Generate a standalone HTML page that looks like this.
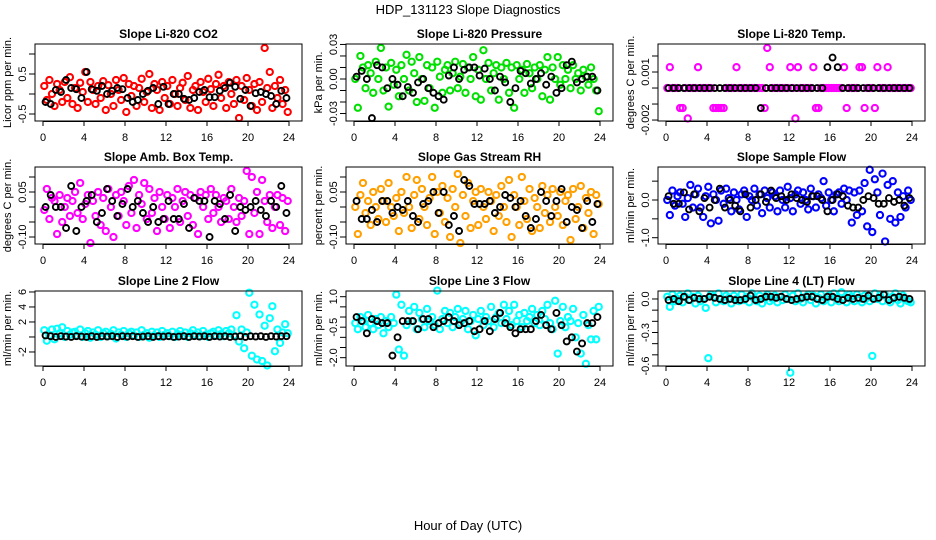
<!DOCTYPE html>
<html><head><meta charset="utf-8">
<style>
html,body{margin:0;padding:0;background:#fff;}
svg{display:block;font-family:"Liberation Sans",Arial,sans-serif;}
</style></head>
<body>
<svg id="chart" width="936" height="540" viewBox="0 0 936 540" xmlns="http://www.w3.org/2000/svg">
<text x="468" y="14" text-anchor="middle" font-size="13">HDP_131123  Slope Diagnostics</text>
<text x="468" y="530" text-anchor="middle" font-size="13">Hour of Day (UTC)</text>
</svg>
<script>
const xTicks=[0,4,8,12,16,20,24];
const titles=["Slope Li-820 CO2","Slope Li-820 Pressure","Slope Li-820 Temp.","Slope Amb. Box Temp.","Slope Gas Stream RH","Slope Sample Flow","Slope Line 2 Flow","Slope Line 3 Flow","Slope Line 4 (LT) Flow"];
const yTitles=["Licor ppm per min.","kPa per min.","degrees C per min.","degrees C per min.","percent per min.","ml/min per min.","ml/min per min.","ml/min per min.","ml/min per min."];
const colors=["#ff0000","#00e000","#ff00ff","#ff00ff","#ffa000","#0000ff","#00ffff","#00ffff","#00ffff"];
const yLims=[[-0.675,1.25],[-0.0365,0.0304],[-0.00206,0.00275],[-0.1233,0.1333],[-0.1233,0.1333],[-1.167,0.875],[-3.87,6.13],[-2.41,1.28],[-0.6,0.0714]];
const yTickVals=[[-0.5,0,0.5,1.0],[-0.03,-0.02,-0.01,0,0.01,0.02,0.03],[-0.002,-0.001,0,0.001,0.002],[-0.1,-0.05,0,0.05,0.1],[-0.1,-0.05,0,0.05,0.1],[-1,-0.5,0,0.5],[-2,0,2,4,6],[-2,-1.5,-1,-0.5,0,0.5,1],[-0.6,-0.5,-0.4,-0.3,-0.2,-0.1,0]];
const yLabelVals=[[-0.5,0.5],[-0.03,0,0.03],[-0.002,0.001],[-0.1,0.05],[-0.1,0.05],[-1,0],[-2,2,4,6],[-2,-0.5,1],[-0.6,-0.3,0]];
const yLabelText=[["-0.5","0.5"],["-0.03","0.00","0.03"],["-0.002","0.001"],["-0.10","0.05"],["-0.10","0.05"],["-1.0","0.0"],["-2","2","4","6"],["-2.0","-0.5","1.0"],["-0.6","-0.3","0.0"]];

const co2Color=[0.2,-0.15,0.35,0.0,-0.3,0.25,0.1,-0.2,0.3,-0.1,0.42,-0.25,0.15,-0.35,0.28,0.05,0.55,-0.2,0.3,0.1,-0.25,0.2,-0.1,0.32,-0.4,0.22,0.0,-0.3,0.35,0.1,-0.15,0.4,-0.45,0.25,-0.05,0.2,-0.3,0.15,0.38,-0.2,0.05,0.5,-0.35,0.25,0.1,-0.4,0.3,-0.1,0.2,-0.25,0.35,0.0,-0.3,0.15,0.28,-0.15,0.45,-0.35,0.1,0.2,-0.4,0.3,0.05,-0.2,0.38,0.12,-0.3,0.25,0.48,-0.1,0.2,-0.35,0.3,0.0,-0.25,0.35,-0.6,0.2,-0.15,0.4,0.1,-0.3,0.25,-0.4,0.3,-0.2,1.15,0.15,0.55,-0.35,0.2,-0.1,0.35,-0.25,0.1,-0.45];
const co2Black=[-0.2,-0.25,0.1,0.05,0.35,0.15,0.12,-0.1,0.55,0.12,0.08,0.2,0.0,0.08,0.15,0.12,-0.1,-0.2,-0.15,0.0,0.08,0.15,-0.25,0.18,-0.25,0.0,0.0,-0.12,-0.15,-0.1,0.05,0.1,-0.08,-0.08,0.08,0.15,0.28,0.18,-0.12,0.1,-0.3,0.02,0.05,0.0,-0.05,-0.25,0.08,-0.1];
const presColor=[0.0,-0.025,0.02,0.01,-0.008,0.012,0.005,-0.012,0.015,0.0,0.027,-0.01,0.01,-0.024,0.014,-0.005,0.008,-0.015,0.012,0.0,0.021,-0.01,0.015,0.005,-0.02,0.019,0.0,-0.019,0.012,-0.008,0.01,-0.025,0.015,0.002,-0.012,0.008,0.012,-0.01,0.005,0.015,-0.008,0.002,0.013,-0.012,0.01,0.0,0.019,-0.015,0.008,-0.018,0.025,0.0,0.014,-0.01,0.005,0.012,-0.018,0.01,0.0,0.014,-0.012,0.01,-0.025,0.012,0.0,0.008,-0.012,0.013,0.005,-0.008,0.01,0.0,0.012,-0.015,0.008,0.019,-0.018,0.01,0.0,0.019,-0.005,0.012,0.0,0.008,-0.008,0.012,0.0,0.005,-0.01,0.008,0.002,-0.005,0.01,0.0,-0.01,-0.028];
const presBlack=[0.002,0.007,0.0,-0.034,0.012,0.01,-0.008,0.0,-0.005,-0.015,-0.007,-0.012,-0.003,0.0,-0.008,-0.012,-0.015,-0.018,0.003,0.01,0.0,0.008,0.01,0.01,0.003,0.009,0.0,-0.01,0.002,-0.003,-0.02,-0.008,0.007,0.005,-0.004,0.0,0.005,-0.005,0.002,-0.012,-0.008,0.012,0.015,-0.003,0.0,0.002,0.002,-0.01];
const tempColor=[0,0.0013,0,0,0,-0.00125,-0.00125,0,-0.0019,0,0,0,0.0013,0,0,0,0,0,-0.00125,-0.00125,-0.00125,-0.00125,-0.00125,0,0,0,0,0.0013,0,0,0,0,0,0,0,0,0,0,-0.00125,0.0025,0.0013,0,0,0,0,0,0,0,0.0013,0,-0.0019,0.0013,0,0,0,0,0,0.0013,-0.00125,-0.00125,0,0,0,0,0,0,0,0,0,0.0013,-0.00125,0,0,0,0,0.0013,0.0013,-0.00125,0,0,0,-0.00125,0.0013,0,0,0,0.0013,0,0,0,0,0,0,0,0,0];
const tempBlack=[0,0,0,0,0,0,0,0,0,0,0,0,0,0,0,0,0,0,-0.00125,0,0,0,0,0,0,0,0,0,0,0,0,0.0013,0.0019,0.0013,0,0,0,0,0,0,0,0,0,0,0,0,0,0];
const boxColor=[-0.01,0.06,-0.04,0.03,0.02,-0.09,0.04,-0.05,0.0,0.03,-0.03,0.02,0.05,-0.02,0.08,-0.04,0.01,0.04,-0.12,0.02,-0.03,0.05,-0.06,0.03,-0.08,0.06,0.0,-0.1,0.04,-0.03,0.05,0.02,-0.06,0.07,-0.02,0.09,-0.07,0.04,0.01,0.08,-0.04,0.06,-0.02,0.03,-0.08,0.05,0.0,-0.04,0.04,-0.07,0.03,0.0,0.06,-0.05,0.02,0.05,-0.03,0.04,-0.06,0.03,-0.09,0.05,0.0,0.04,-0.04,0.06,-0.02,0.04,0.0,-0.05,0.03,0.02,-0.04,0.06,0.0,-0.05,0.03,-0.03,0.02,0.12,-0.09,0.1,-0.02,0.05,-0.09,0.09,0.02,-0.05,0.04,-0.07,0.0,0.04,-0.06,0.03,-0.08,0.02];
const boxBlack=[0.0,0.04,0.0,0.0,-0.07,0.07,-0.08,0.0,0.02,0.04,-0.05,-0.02,0.06,0.02,-0.03,0.01,0.06,0.0,0.02,-0.02,-0.05,0.0,-0.05,-0.04,0.02,-0.04,-0.04,0.01,-0.07,0.03,0.02,0.02,-0.1,0.02,0.01,-0.04,0.04,-0.08,0.0,-0.01,0.0,0.02,-0.01,-0.03,0.02,0.0,0.07,-0.02];
const rhColor=[0.0,-0.09,0.04,0.08,-0.02,0.02,-0.06,0.05,0.0,-0.04,0.06,0.02,-0.05,0.08,0.0,-0.03,0.03,-0.08,0.05,-0.02,0.1,0.0,-0.07,0.04,0.09,-0.04,0.06,0.0,-0.06,0.03,0.1,-0.09,0.05,-0.02,0.07,-0.05,0.03,-0.1,0.06,0.0,0.11,-0.12,0.04,-0.03,0.08,-0.07,0.02,0.05,-0.06,0.06,0.0,-0.04,0.05,0.02,-0.08,0.04,-0.03,0.07,0.0,-0.05,0.09,-0.1,0.04,0.0,-0.06,0.1,0.02,-0.04,0.06,-0.08,0.03,0.0,-0.07,0.07,-0.02,0.04,-0.05,0.06,0.0,-0.03,0.05,-0.06,0.02,0.04,-0.11,0.06,-0.04,0.0,0.07,-0.07,0.03,-0.02,0.05,-0.09,0.04,0.01];
const rhBlack=[0.02,-0.04,-0.04,-0.01,-0.05,0.02,0.02,-0.02,0.0,-0.01,0.02,-0.03,-0.05,0.01,0.02,0.05,-0.02,0.05,-0.06,-0.03,-0.08,0.09,0.07,0.01,0.01,0.01,0.02,-0.02,0.0,0.04,0.03,0.0,0.02,-0.03,-0.07,-0.04,0.05,0.02,-0.03,0.02,0.06,-0.05,0.0,-0.01,-0.07,0.02,-0.05,0.01];
const flowColor=[0.0,-0.4,0.25,-0.15,0.1,0.2,-0.1,-0.45,0.05,0.4,-0.2,0.15,0.3,-0.2,-0.45,0.1,0.35,-0.62,0.15,0.0,-0.55,0.25,-0.1,0.3,0.05,-0.3,0.2,0.0,-0.25,0.15,0.25,-0.45,0.1,0.0,0.3,-0.15,0.15,-0.35,0.25,0.05,-0.2,0.2,0.1,-0.3,0.25,0.0,-0.2,0.35,0.05,-0.3,0.15,0.25,-0.1,0.2,0.0,-0.25,0.3,0.1,-0.2,0.15,0.05,0.5,-0.15,0.2,0.0,-0.3,0.15,0.2,-0.1,0.3,0.0,0.25,-0.6,0.2,-0.4,0.25,-0.3,0.45,-0.7,0.8,-0.85,0.55,0.2,-0.4,0.7,-1.1,0.4,-0.5,0.5,-0.6,0.2,-0.45,0.1,-0.2,0.25,0.0];
const flowBlack=[0.1,-0.1,-0.1,0.2,-0.25,0.15,-0.3,0.05,-0.2,0.0,0.3,-0.2,0.0,-0.15,-0.3,0.15,-0.2,0.0,0.15,-0.05,0.25,0.05,0.1,0.0,0.15,0.05,0.0,-0.05,0.1,0.1,0.0,-0.3,0.0,0.15,0.1,-0.15,-0.2,-0.2,0.0,0.1,0.05,-0.1,-0.1,0.05,-0.05,0.0,-0.15,0.05];
const line2Color=[0.9,-0.5,0.2,1.0,-0.3,1.1,0.5,1.3,0.0,0.8,0.3,0.6,0.7,0.2,1.0,0.0,0.5,0.8,-0.1,0.6,0.3,0.9,0.0,0.5,0.7,0.1,0.4,0.9,-0.2,0.6,0.3,0.8,0.0,0.5,0.7,0.2,0.6,0.0,0.9,0.3,0.5,-0.1,0.7,0.2,0.6,0.0,0.8,0.3,0.5,0.1,0.7,0.0,0.4,0.8,0.2,0.6,0.0,0.5,0.9,0.3,0.6,0.1,0.8,0.3,0.0,0.5,0.7,0.2,0.9,0.4,0.1,0.8,0.5,1.0,0.2,2.9,-0.6,1.0,-1.5,0.6,5.9,-2.5,4.3,-3.0,3.0,-3.2,1.5,-3.8,2.5,4.1,-1.9,1.0,-0.8,0.6,1.7,0.5];
const line2Black=[0.2,0.1,0.0,0.1,0.05,0.0,0.1,0.05,0.0,0.1,0.0,0.1,0.05,0.1,0.0,0.1,0.05,0.1,0.0,0.05,0.1,0.0,0.1,0.05,0.1,0.0,0.05,0.1,0.0,0.1,0.05,0.1,0.0,0.1,0.05,0.1,0.0,0.05,0.1,0.0,0.1,0.05,0.1,0.0,0.1,0.05,0.1,0.1];
const line3Color=[-0.3,-0.6,0.0,-0.2,-0.5,0.1,-0.3,-0.6,-0.1,-0.4,0.0,-0.8,-0.2,-0.5,0.0,-0.3,1.1,-1.6,0.6,-1.9,-0.4,0.3,-0.2,0.5,-0.6,0.2,-0.1,-0.5,0.4,-0.2,0.0,-0.4,1.3,-0.6,-0.1,0.3,-0.3,0.2,-0.5,0.0,0.4,-0.3,-0.1,0.3,-0.6,-0.2,0.1,-0.9,-0.1,0.3,-0.4,0.0,-0.2,0.5,-0.5,0.0,0.2,-0.3,0.6,-0.1,0.3,-0.4,0.6,-0.2,0.1,-0.5,0.2,-0.2,0.0,0.4,-0.3,0.1,-0.4,0.3,-0.1,0.6,-0.3,-0.6,0.8,-1.8,-0.2,0.5,-0.5,0.0,-0.2,0.4,-1.0,-0.3,-1.8,0.1,-2.3,-0.4,-1.1,0.3,-1.1,0.5];
const line3Black=[0.0,-0.2,-0.8,-0.1,-0.2,-0.3,-0.3,-1.9,-1.0,-0.2,-0.2,-0.2,-0.6,-0.1,-0.1,-0.5,-0.3,-0.2,0.0,-0.2,-0.4,-0.3,-0.2,-0.7,-0.6,-0.2,-0.7,-0.1,0.2,-0.3,-0.5,-0.8,-0.6,-0.6,-0.6,-0.2,0.1,-0.4,-0.6,0.2,-0.4,-1.2,-1.0,-1.7,-1.3,-0.3,-0.3,0.0];
const line4Color=[0.02,-0.07,0.04,-0.02,0.0,0.03,-0.03,0.02,0.05,-0.01,0.02,-0.04,0.03,-0.02,0.0,-0.08,-0.53,0.04,0.02,-0.03,0.05,0.0,-0.02,0.03,0.01,-0.04,0.03,0.0,-0.02,0.04,-0.01,0.02,-0.03,0.05,0.0,-0.02,0.03,-0.04,0.01,0.04,-0.02,0.0,0.03,-0.03,0.02,-0.01,0.04,0.0,-0.66,0.03,-0.02,0.05,0.0,-0.03,0.02,0.04,-0.01,0.03,-0.04,0.01,0.04,-0.02,0.0,0.03,-0.03,0.05,0.01,-0.02,0.06,0.0,-0.03,0.04,0.02,-0.02,0.04,0.0,-0.03,0.03,0.01,-0.02,-0.51,0.05,0.0,0.03,-0.02,0.04,0.0,-0.03,0.02,0.05,-0.01,-0.04,0.03,0.0,-0.02,-0.03];
const line4Black=[-0.01,0.0,-0.02,0.02,-0.01,0.01,0.0,0.0,0.02,0.01,0.0,-0.01,0.0,-0.01,-0.01,0.0,0.03,-0.01,0.0,0.02,0.02,0.01,0.02,0.0,-0.01,0.0,0.01,0.02,0.02,0.0,-0.01,0.02,0.02,0.0,-0.01,0.01,0.0,0.01,0.0,0.03,0.0,0.01,0.04,-0.01,0.01,0.02,0.01,0.0];

const colorSeries=[co2Color,presColor,tempColor,boxColor,rhColor,flowColor,line2Color,line3Color,line4Color];
const blackSeries=[co2Black,presBlack,tempBlack,boxBlack,rhBlack,flowBlack,line2Black,line3Black,line4Black];

const NS="http://www.w3.org/2000/svg";
const svg=document.getElementById('chart');
const colLeft=[35,346,658], rowTop=[44,167,291], rowH=[77,77,75], boxW=267;
function mk(tag,attrs,parent){const e=document.createElementNS(NS,tag);for(const k in attrs)e.setAttribute(k,attrs[k]);(parent||svg).appendChild(e);return e;}

for(let p=0;p<9;p++){
  const L=colLeft[p%3], T=rowTop[Math.floor(p/3)], H=rowH[Math.floor(p/3)];
  const g=mk('g',{});
  
  
  const xs=h=>L+8+h*10.25;
  const [y0,y1]=yLims[p];
  const ys=v=>T+H-(v-y0)/(y1-y0)*H;
  const t=mk('text',{x:L+boxW/2,y:T-6,'text-anchor':'middle','font-size':'12','font-weight':'bold'},g);
  t.textContent=titles[p];
  
  
  const yt=mk('text',{x:0,y:0,'text-anchor':'middle','font-size':'11',transform:`translate(${L-24},${T+H/2}) rotate(-90)`},g);
  yt.textContent=yTitles[p];
  
  
  const cg=mk('g',{},g);
  
  
  colorSeries[p].forEach((v,i)=>{
    const c=mk('circle',{cx:xs((i+0.5)*0.25),cy:ys(v),r:3.1,fill:'none',stroke:colors[p],'stroke-width':2.1},cg);
    
    
  });
  const bg=mk('g',{},g);
  
  
  blackSeries[p].forEach((v,i)=>{
    const c=mk('circle',{cx:xs(0.25+i*0.5),cy:ys(v),r:3,fill:'none',stroke:'#000','stroke-width':1.9},bg);
    
    
  });
  const b=mk('rect',{x:L,y:T,width:boxW,height:H,fill:'none',stroke:'#000','stroke-width':1},g);
  
  
  mk('line',{x1:xs(0),x2:xs(24),y1:T+H+0.5,y2:T+H+0.5,stroke:'#000'},g);
  xTicks.forEach(h=>{
    mk('line',{x1:xs(h),x2:xs(h),y1:T+H,y2:T+H+5,stroke:'#000'},g);
    const tx=mk('text',{x:xs(h),y:T+H+20,'text-anchor':'middle','font-size':'11'},g);
    tx.textContent=h;
    
    
  });
  yTickVals[p].forEach(v=>{mk('line',{x1:L-6,x2:L,y1:ys(v),y2:ys(v),stroke:'#000'},g);});
  yLabelVals[p].forEach((v,k)=>{
    const ty=mk('text',{x:0,y:0,'text-anchor':'middle','font-size':'11',transform:`translate(${L-9},${ys(v)}) rotate(-90)`},g);
    ty.textContent=yLabelText[p][k];
    
    
  });
}
</script>
</body></html>
